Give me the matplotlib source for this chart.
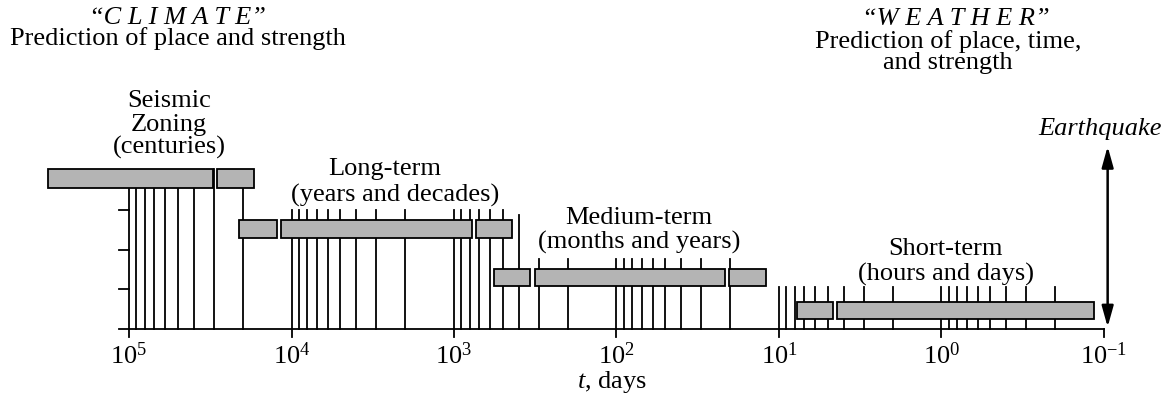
import matplotlib.pyplot as plt
from matplotlib.patches import Rectangle

plt.rcParams['font.family'] = ['Liberation Serif', 'DejaVu Serif']
plt.rcParams['mathtext.fontset'] = 'custom'
plt.rcParams['mathtext.rm'] = 'Liberation Serif'
plt.rcParams['mathtext.it'] = 'Liberation Serif:italic'

FS = 19
GRAY = '#b4b4b4'

# forecast intervals in days, one list per row (start, end), plus row extents
row1_bars = [(3.14e5, 3.05e4), (2.87e4, 1.69e4)]
row2_bars = [(2.10e4, 1.233e4), (1.161e4, 771), (729, 437)]
row3_bars = [(565, 339), (316, 21.6), (20.2, 12.1)]
row4_bars = [(7.71, 4.63), (4.38, 0.1156)]
rows = [row1_bars, row2_bars, row3_bars, row4_bars]
row_bottoms = [3.55, 2.29, 1.08, 0.25]
row_tops = [4.03, 2.75, 1.51, 0.68]

# vertical guide lines at log ticks and how high each one reaches
zoning_lines = [1e5, 9e4, 8e4, 7e4, 6e4, 5e4, 4e4, 2e4]
gap_lines = [3e4]
long_lines = [1e4, 9e3, 8e3, 7e3, 6e3, 5e3, 4e3, 3e3, 2e3,
              1e3, 9e2, 8e2, 7e2, 6e2, 5e2]
long_short_lines = [4e2]
medium_lines = [3e2, 2e2, 1e2, 90, 80, 70, 60, 50, 40, 30, 20]
short_lines = [10, 9, 8, 7, 6, 5, 4, 3, 2,
               1, 0.9, 0.8, 0.7, 0.6, 0.5, 0.4, 0.3, 0.2]
line_groups = [(zoning_lines, 3.79), (gap_lines, 4.03), (long_lines, 3.0),
               (long_short_lines, 2.87), (medium_lines, 1.76), (short_lines, 1.06)]

major_ticks = [1e5, 1e4, 1e3, 1e2, 1e1, 1e0, 1e-1]
major_labels = ['$10^{5}$', '$10^{4}$', '$10^{3}$', '$10^{2}$',
                '$10^{1}$', '$10^{0}$', '$10^{\u22121}$']
level_ticks = [1, 2, 3]

fig = plt.figure(figsize=(11.67, 4.0), dpi=100)
ax = fig.add_axes([0, 0, 1, 1])
ax.set_xscale('log')
ax.set_xlim(10 ** 5.794, 10 ** -1.388)
ax.set_ylim(-1.788, 8.287)
ax.axis('off')

lw = 1.3
for xs, top in line_groups:
    for x in xs:
        ax.plot([x, x], [0, top], color='black', lw=lw, zorder=1)

for bars, y0, y1 in zip(rows, row_bottoms, row_tops):
    for a, b in bars:
        ax.add_patch(Rectangle((b, y0), a - b, y1 - y0, facecolor=GRAY,
                               edgecolor='black', lw=lw, zorder=3))

# axis line, major ticks and level ticks
x_left = 1.152e5
ax.plot([x_left, 1e-1], [0, 0], color='black', lw=lw, zorder=2)
for x, lab in zip(major_ticks, major_labels):
    ax.plot([x, x], [-0.2, 0], color='black', lw=lw, zorder=2)
    ax.text(x, -0.88, lab, ha='center', va='baseline', fontsize=FS)
for y in level_ticks:
    ax.plot([x_left, 1e5], [y, y], color='black', lw=lw, zorder=2)
ax.text(107, -1.49, '$t$, days', ha='center', va='baseline', fontsize=FS)

# earthquake marker
ax.annotate('', xy=(0.0949, 0.05), xytext=(0.0949, 4.6),
            arrowprops=dict(arrowstyle='<|-|>,head_length=0.9,head_width=0.25',
                            color='black', lw=1.8,
                            mutation_scale=14, shrinkA=0, shrinkB=0))
ax.text(0.044, 4.89, 'Earthquake', ha='right', va='baseline',
        fontsize=FS, style='italic')

# headings
ax.text(5.0e4, 7.68, '\u201cC L I M A T E\u201d',
        ha='center', va='baseline', fontsize=FS, style='italic')
ax.text(5.0e4, 7.15, 'Prediction of place and strength',
        ha='center', va='baseline', fontsize=FS)
ax.text(0.815, 7.66, '\u201cW E A T H E R\u201d',
        ha='center', va='baseline', fontsize=FS, style='italic')
ax.text(0.912, 7.08, 'Prediction of place, time,',
        ha='center', va='baseline', fontsize=FS)
ax.text(0.912, 6.55, 'and strength', ha='center', va='baseline', fontsize=FS)

# forecast class labels
ax.text(5.68e4, 5.59, 'Seismic', ha='center', va='baseline', fontsize=FS)
ax.text(5.68e4, 4.99, 'Zoning', ha='center', va='baseline', fontsize=FS)
ax.text(5.68e4, 4.41, '(centuries)', ha='center', va='baseline', fontsize=FS)
ax.text(2660, 3.88, 'Long-term', ha='center', va='baseline', fontsize=FS)
ax.text(2306, 3.22, '(years and decades)', ha='center', va='baseline', fontsize=FS)
ax.text(72.8, 2.64, 'Medium-term', ha='center', va='baseline', fontsize=FS)
ax.text(72.8, 2.02, '(months and years)', ha='center', va='baseline', fontsize=FS)
ax.text(0.938, 1.86, 'Short-term', ha='center', va='baseline', fontsize=FS)
ax.text(0.938, 1.23, '(hours and days)', ha='center', va='baseline', fontsize=FS)

fig.savefig('out.png', dpi=100)
